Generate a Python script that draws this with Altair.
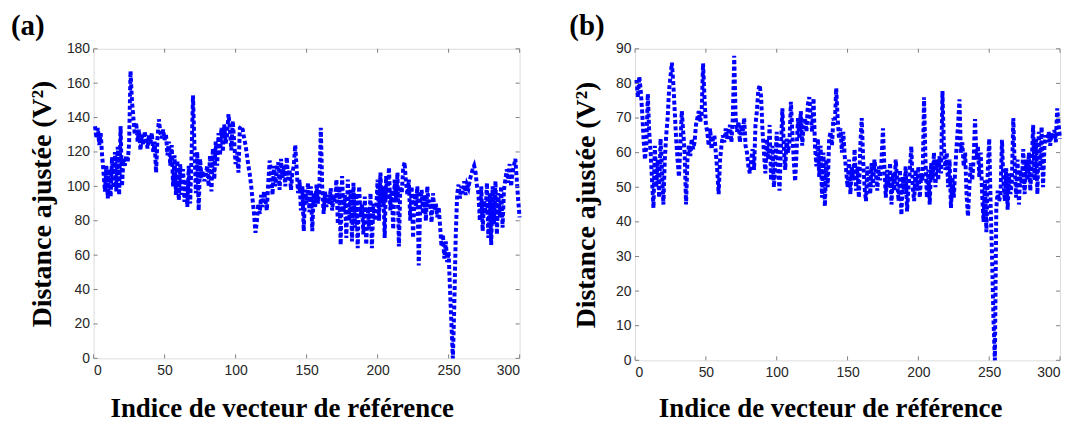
import altair as alt
import pandas as pd

# ---- data ----
dist_a = [
    135, 128, 134, 124, 131, 118, 108, 97, 112, 93,
    110, 94, 117, 99, 120, 97, 123, 95, 135, 100,
    116, 112, 118, 114, 125, 167, 150, 140, 130, 137,
    126, 133, 121, 130, 124, 132, 127, 122, 130, 125,
    131, 120, 126, 108, 128, 139, 131, 128, 133, 127,
    130, 118, 126, 112, 124, 100, 118, 95, 115, 92,
    113, 95, 110, 91, 104, 88, 112, 90, 118, 153,
    124, 96, 120, 86, 116, 105, 109, 103, 107, 112,
    100, 118, 97, 122, 104, 126, 112, 131, 118, 134,
    120, 136, 125, 130, 142, 133, 121, 138, 126, 113,
    120, 108, 134, 135, 133, 128, 124, 118, 112, 107,
    100, 92, 84, 73, 80, 90, 84, 95, 88, 97,
    92, 86, 102, 115, 108, 95, 112, 100, 110, 114,
    98, 116, 105, 112, 100, 117, 104, 110, 98, 108,
    112, 124, 110, 96, 104, 86, 100, 74, 98, 90,
    102, 85, 100, 74, 96, 88, 101, 90, 98, 134,
    100, 84, 97, 88, 95, 90, 99, 86, 94, 91,
    104, 78, 100, 66, 106, 85, 95, 70, 104, 80,
    98, 68, 102, 76, 96, 64, 100, 82, 90, 72,
    94, 66, 88, 75, 96, 64, 90, 80, 86, 104,
    80, 108, 88, 100, 70, 106, 92, 111, 86, 98,
    75, 104, 92, 108, 65, 100, 96, 110, 114, 102,
    95, 104, 80, 100, 70, 96, 88, 100, 54, 90,
    98, 84, 95, 80, 100, 88, 92, 79, 96, 86,
    90, 82, 88, 77, 65, 72, 58, 68, 56, 62,
    40, 20, 0, 30, 70, 95, 101, 93, 100, 96,
    103, 95, 101, 99, 104, 107, 110, 112, 108, 100,
    96, 80, 100, 74, 92, 84, 102, 70, 96, 66,
    100, 78, 103, 72, 96, 82, 100, 76, 98, 104,
    110, 102, 113, 100, 108, 112, 116, 104, 92, 82,
]

dist_b = [
    81, 76, 82, 78, 72, 64, 58, 62, 77, 66,
    60, 52, 44, 62, 50, 58, 47, 64, 55, 45,
    58, 65, 70, 78, 82, 86, 80, 72, 64, 58,
    53, 62, 72, 66, 60, 45, 58, 62, 59, 64,
    61, 63, 68, 70, 72, 69, 71, 85.8, 76, 68,
    66, 62, 67, 61, 64, 65, 60, 55, 48, 58,
    62, 65, 63, 67, 64, 66, 68, 63, 70, 88,
    70, 66, 69, 63, 68, 65, 70, 62, 60, 56,
    54, 58, 61, 55, 68, 72, 78, 79.5, 76, 66,
    60, 54, 64, 58, 68, 52, 62, 50, 57, 66,
    55, 49, 62, 72.8, 62, 55, 64, 60, 63, 74.7,
    66, 58, 51.7, 60, 70, 64, 72, 62, 68, 70,
    66, 74, 76, 70, 66, 75.7, 62, 56, 64, 53,
    62, 47, 60, 44.5, 58, 50, 64, 66, 62, 70,
    68, 78.6, 70, 64, 67, 60, 66, 59, 55, 50,
    58, 48, 56, 52, 61, 49, 56, 47, 62, 70,
    58, 50, 46, 56, 52, 48, 57, 50, 58, 54,
    49, 56, 52, 58, 67, 56, 47, 55, 50, 57,
    45, 54, 49, 58, 52, 46, 55, 42, 53, 48,
    56, 43, 50, 55, 61.8, 50, 46, 55, 49, 56,
    47, 54, 52, 76, 58, 47, 55, 45, 57, 52,
    60, 50, 58, 52, 59, 54, 77.8, 62, 55, 60,
    50, 58, 44, 53, 47, 55, 62, 68, 75.4, 60,
    63, 56, 60, 48, 41.6, 50, 57, 52, 58, 69.7,
    58, 62, 53, 60, 48, 40, 52, 37, 55, 64,
    45, 30, 12, 0, 44, 49, 46, 48, 63.7, 52,
    46, 55.5, 43.5, 54, 48, 52, 70, 56, 47, 58,
    45, 55, 50, 61, 48, 58, 52, 60, 49, 57,
    68, 52, 64, 48, 66, 55, 67.5, 50, 62, 65,
    63, 66, 62, 65.5, 64, 66.5, 63, 72.8, 68, 64,
]

x_ticks = [0, 50, 100, 150, 200, 250, 300]
y_ticks_a = [0, 20, 40, 60, 80, 100, 120, 140, 160, 180]
y_ticks_b = [0, 10, 20, 30, 40, 50, 60, 70, 80, 90]

x_title = "Indice de vecteur de référence"
y_title = "Distance ajustée (V²)"
panel_labels = ["(a)", "(b)"]

SERIF = "Liberation Serif"
SANS = "Liberation Sans"
FRAME = "#808080"
TICKLEN = 4


def panel(values, yticks, ymax, label, W, H, title_dx, ytitle_x, xtitle_x, xtitle_y):
    df = pd.DataFrame({"i": list(range(1, len(values) + 1)), "d": values})
    xs = alt.Scale(domain=[0, 300], nice=False, zero=False)
    ys = alt.Scale(domain=[0, ymax], nice=False)
    ax_x = alt.Axis(values=x_ticks, title=x_title, ticks=False, domain=False,
                    grid=False, labelPadding=5, labelFontSize=14,
                    labelFont=SANS, labelColor="#262626", labelOverlap=False,
                    titleFont=SERIF, titleFontSize=27, titleFontWeight="bold",
                    titleColor="black", titleX=xtitle_x, titleY=xtitle_y,
                    titleBaseline="alphabetic")
    ax_y = alt.Axis(values=yticks, title=y_title, ticks=False, domain=False,
                    grid=False, labelPadding=4, labelFontSize=14,
                    labelFont=SANS, labelColor="#262626", labelOverlap=False,
                    titleFont=SERIF, titleFontSize=28, titleFontWeight="bold",
                    titleColor="black", titleX=ytitle_x)
    line = alt.Chart(df).mark_line(
        color="#0000FF", strokeWidth=4, strokeDash=[4, 2.5], strokeCap="butt"
    ).encode(
        x=alt.X("i:Q", scale=xs, axis=ax_x),
        y=alt.Y("d:Q", scale=ys, axis=ax_y),
    )
    xt = pd.DataFrame({"i": x_ticks})
    yt = pd.DataFrame({"d": yticks})
    tb = alt.Chart(xt).mark_rule(color=FRAME, strokeWidth=1).encode(
        x=alt.X("i:Q", scale=xs, axis=ax_x), y=alt.value(H), y2=alt.value(H - TICKLEN))
    tt = alt.Chart(xt).mark_rule(color=FRAME, strokeWidth=1).encode(
        x=alt.X("i:Q", scale=xs, axis=ax_x), y=alt.value(0), y2=alt.value(TICKLEN))
    tl = alt.Chart(yt).mark_rule(color=FRAME, strokeWidth=1).encode(
        y=alt.Y("d:Q", scale=ys, axis=ax_y), x=alt.value(0), x2=alt.value(TICKLEN))
    tr = alt.Chart(yt).mark_rule(color=FRAME, strokeWidth=1).encode(
        y=alt.Y("d:Q", scale=ys, axis=ax_y), x=alt.value(W), x2=alt.value(W - TICKLEN))
    return alt.layer(line, tb, tt, tl, tr).properties(
        width=W, height=H,
        title=alt.TitleParams(label, anchor="start", frame="group", dx=title_dx,
                              font=SERIF, fontSize=29, fontWeight="bold",
                              color="black", offset=1),
    )


pa = panel(dist_a, y_ticks_a, 180, panel_labels[0], 428, 311, -83, -37, 189, 58)
pb = panel(dist_b, y_ticks_b, 90, panel_labels[1], 427, 313, -66, -35, 196, 56)

chart = alt.hconcat(pa, pb, spacing=40).properties(
    padding={"left": 2, "top": 2, "right": 2, "bottom": 0}
).configure_view(stroke=FRAME, strokeWidth=1).configure(background="white")

chart.save("out.html", embed_options={"renderer": "svg", "actions": False})
